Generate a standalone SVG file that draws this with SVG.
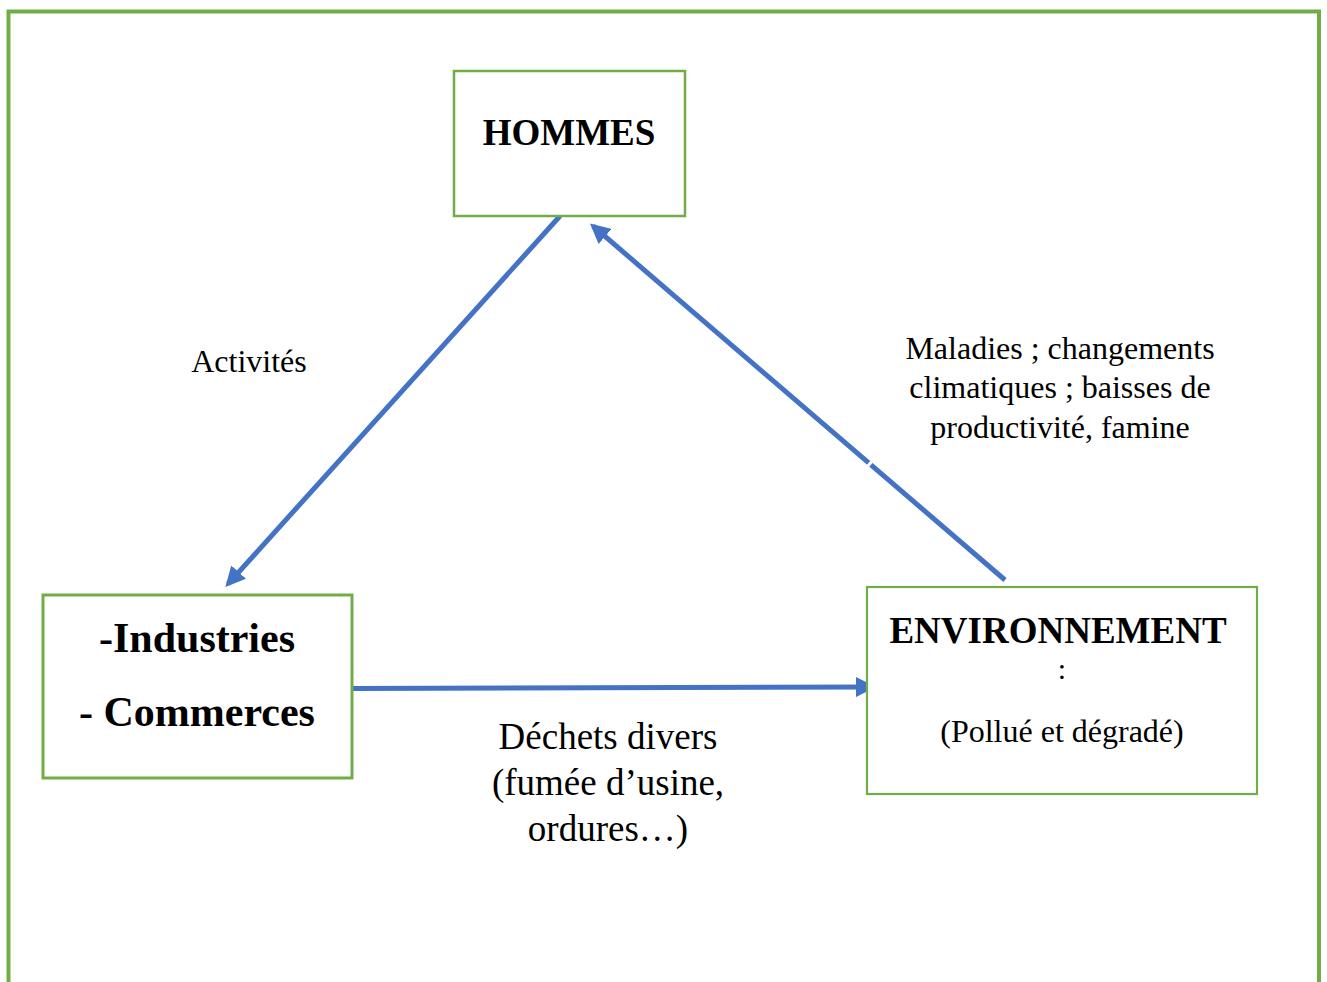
<svg xmlns="http://www.w3.org/2000/svg" width="1327" height="982" viewBox="0 0 1327 982">
<defs>
<style>
.box{fill:#fff;stroke:#70ad47}
.t{font-family:"Liberation Serif","Times New Roman",serif;fill:#000;text-anchor:middle}
.b{font-weight:bold}
.c{stroke:#4472c4;stroke-width:5;fill:none}
</style>
<marker id="ah" viewBox="0 0 10 10" refX="8" refY="5" markerWidth="4" markerHeight="4" orient="auto" markerUnits="strokeWidth">
<path d="M0,0 L10,5 L0,10 z" fill="#4472c4"/>
</marker>
</defs>
<rect width="1327" height="982" fill="#fff"/>
<path d="M8.5,985 V11.5 H1319 V985" fill="none" stroke="#70ad47" stroke-width="4"/>
<g id="connectors">
<line class="c" x1="560" y1="216" x2="228" y2="584" marker-end="url(#ah)"/>
<line class="c" x1="1005" y1="580" x2="593" y2="226" marker-end="url(#ah)"/>
<line class="c" x1="352" y1="688.5" x2="872" y2="687" marker-end="url(#ah)"/>
<line x1="866" y1="468" x2="875" y2="458" stroke="#fff" stroke-width="3"/>
</g>
<g id="hommes">
<rect class="box" x="454" y="71" width="231" height="145" stroke-width="2.5"/>
<text class="t b" x="569" y="145" font-size="37">HOMMES</text>
</g>
<g id="industries">
<rect class="box" x="43" y="595" width="309" height="183" stroke-width="3"/>
<text class="t b" x="197" y="652" font-size="42">-Industries</text>
<text class="t b" x="197" y="726" font-size="42">- Commerces</text>
</g>
<g id="environnement">
<rect class="box" x="867" y="587" width="390" height="207" stroke-width="2.2"/>
<text class="t b" x="1058" y="643" font-size="37">ENVIRONNEMENT</text>
<text class="t" x="1062" y="679" font-size="30">:</text>
<text class="t" x="1062" y="742" font-size="32">(Pollué et dégradé)</text>
</g>
<g id="labels">
<text class="t" x="249" y="372" font-size="32">Activités</text>
<text class="t" x="1060" y="359" font-size="32">Maladies ; changements</text>
<text class="t" x="1060" y="398" font-size="32">climatiques ; baisses de</text>
<text class="t" x="1060" y="438" font-size="32">productivité, famine</text>
<text class="t" x="608" y="749" font-size="37">Déchets divers</text>
<text class="t" x="608" y="795" font-size="37">(fumée d’usine,</text>
<text class="t" x="608" y="841" font-size="37">ordures…)</text>
</g>
</svg>
